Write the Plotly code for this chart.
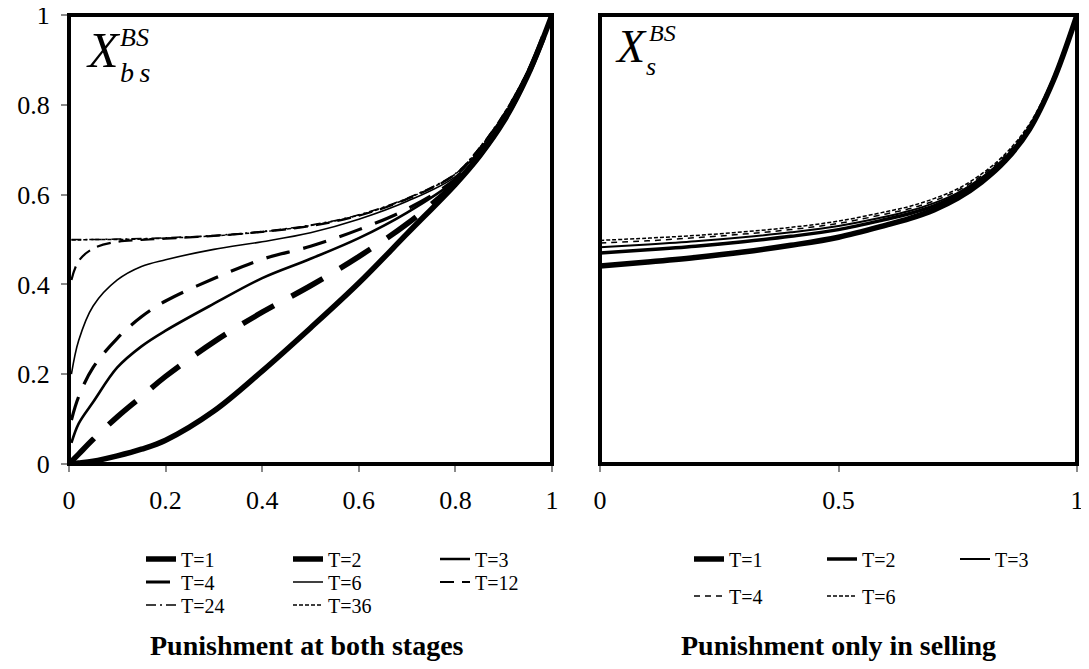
import plotly.graph_objects as go

# ---------------- data ----------------
# Left panel: punishment at both stages
x_left_a = [0.0, 0.02, 0.05, 0.1, 0.15, 0.2, 0.3, 0.4, 0.5, 0.6, 0.7, 0.8, 0.85, 0.9, 0.95, 1.0]
x_left_b = [0.005, 0.02, 0.05, 0.1, 0.15, 0.2, 0.3, 0.4, 0.5, 0.6, 0.7, 0.8, 0.85, 0.9, 0.95, 1.0]
bs_T1 = [0.0, 0.002, 0.006, 0.018, 0.033, 0.053, 0.118, 0.207, 0.303, 0.403, 0.513, 0.623, 0.686, 0.763, 0.866, 1.0]
bs_T2 = [0.0, 0.022, 0.055, 0.105, 0.15, 0.195, 0.272, 0.338, 0.397, 0.462, 0.535, 0.626, 0.688, 0.766, 0.868, 1.0]
bs_T3 = [0.047, 0.09, 0.138, 0.215, 0.262, 0.297, 0.357, 0.414, 0.457, 0.503, 0.56, 0.632, 0.692, 0.77, 0.87, 1.0]
bs_T4 = [0.098, 0.15, 0.215, 0.28, 0.328, 0.363, 0.413, 0.456, 0.485, 0.522, 0.568, 0.635, 0.697, 0.773, 0.872, 1.0]
bs_T6 = [0.2, 0.275, 0.352, 0.41, 0.44, 0.455, 0.478, 0.495, 0.515, 0.545, 0.585, 0.64, 0.7, 0.776, 0.874, 1.0]
bs_T12 = [0.41, 0.452, 0.48, 0.495, 0.499, 0.502, 0.508, 0.517, 0.53, 0.553, 0.59, 0.645, 0.703, 0.778, 0.876, 1.0]
bs_T24 = [0.5, 0.5, 0.5, 0.501, 0.502, 0.504, 0.509, 0.518, 0.532, 0.555, 0.592, 0.647, 0.705, 0.78, 0.877, 1.0]
bs_T36 = [0.499, 0.499, 0.5, 0.5, 0.501, 0.503, 0.508, 0.517, 0.531, 0.554, 0.591, 0.646, 0.704, 0.779, 0.877, 1.0]

# Right panel: punishment only in selling
x_right = [0.0, 0.1, 0.2, 0.3, 0.4, 0.5, 0.6, 0.65, 0.7, 0.75, 0.8, 0.85, 0.9, 0.95, 1.0]
s_T1 = [0.441, 0.45, 0.46, 0.472, 0.487, 0.505, 0.532, 0.547, 0.566, 0.592, 0.628, 0.676, 0.745, 0.853, 1.0]
s_T2 = [0.47, 0.477, 0.485, 0.495, 0.507, 0.522, 0.545, 0.558, 0.575, 0.599, 0.634, 0.68, 0.748, 0.855, 1.0]
s_T3 = [0.483, 0.489, 0.496, 0.505, 0.516, 0.53, 0.551, 0.564, 0.581, 0.604, 0.638, 0.684, 0.751, 0.857, 1.0]
s_T4 = [0.492, 0.497, 0.504, 0.512, 0.522, 0.536, 0.557, 0.569, 0.586, 0.609, 0.642, 0.688, 0.754, 0.859, 1.0]
s_T6 = [0.498, 0.503, 0.509, 0.517, 0.527, 0.541, 0.562, 0.574, 0.591, 0.613, 0.646, 0.691, 0.757, 0.861, 1.0]

left_ticks = [0, 0.2, 0.4, 0.6, 0.8, 1]
left_ticktext = ["0", "0.2", "0.4", "0.6", "0.8", "1"]
right_ticks = [0, 0.5, 1]
right_ticktext = ["0", "0.5", "1"]

# ---------------- figure ----------------
W, H = 1089, 669
OFF = 8  # page body margin of the html page
SERIF = "Liberation Serif"
GREY = "#8a8a8a"

fig = go.Figure()

left_series = [
    ("T=1", x_left_a, bs_T1, dict(width=5.5, dash="solid"), "legend"),
    ("T=2", x_left_a, bs_T2, dict(width=5.5, dash="36px,20px"), "legend"),
    ("T=3", x_left_b, bs_T3, dict(width=2.6, dash="solid"), "legend"),
    ("T=4", x_left_b, bs_T4, dict(width=3.2, dash="24px,14px"), "legend2"),
    ("T=6", x_left_b, bs_T6, dict(width=1.6, dash="solid"), "legend2"),
    ("T=12", x_left_b, bs_T12, dict(width=2.2, dash="14px,8px"), "legend2"),
    ("T=24", x_left_b, bs_T24, dict(width=1.5, dash="10px,4px,2px,4px"), "legend3"),
    ("T=36", x_left_b, bs_T36, dict(width=1.5, dash="4px,2px"), "legend3"),
]
for name, xs, ys, ln, lg in left_series:
    fig.add_trace(go.Scatter(
        x=xs, y=ys, name=name, mode="lines", xaxis="x", yaxis="y",
        line=dict(color="black", shape="spline", smoothing=1.0, **ln),
        legend=lg, hoverinfo="skip"))

right_series = [
    ("T=1", s_T1, dict(width=5.5, dash="solid"), "legend4"),
    ("T=2", s_T2, dict(width=3.5, dash="solid"), "legend4"),
    ("T=3", s_T3, dict(width=2.0, dash="solid"), "legend4"),
    ("T=4", s_T4, dict(width=1.5, dash="6px,5px"), "legend5"),
    ("T=6", s_T6, dict(width=1.5, dash="4px,2px"), "legend5"),
]
for name, ys, ln, lg in right_series:
    fig.add_trace(go.Scatter(
        x=x_right, y=ys, name=name, mode="lines", xaxis="x2", yaxis="y2",
        line=dict(color="black", shape="spline", smoothing=1.0, **ln),
        legend=lg, hoverinfo="skip"))

# plot-area geometry (pixels in the final picture)
LX0, LX1 = 69, 552
RX0, RX1 = 600, 1077
PY0, PY1 = 15, 464

def px(x):
    return (x - OFF) / W

def py(y):
    return 1 - (y - OFF) / H

axis_common = dict(range=[0, 1], showgrid=False, zeroline=False, showline=True,
                   linecolor=GREY, linewidth=2, ticks="outside", ticklen=6,
                   tickcolor=GREY, tickwidth=2, tickfont=dict(family=SERIF, size=26, color="black"),
                   fixedrange=True, automargin=False, ticklabeloverflow="allow")

fig.update_layout(
    width=W, height=H,
    margin=dict(l=0, r=0, t=0, b=0, autoexpand=False),
    paper_bgcolor="white", plot_bgcolor="white",
    font=dict(family=SERIF, color="black"),
    xaxis=dict(domain=[px(LX0), px(LX1)], anchor="y", tickvals=left_ticks,
               ticktext=left_ticktext, ticklabelstandoff=6, **axis_common),
    yaxis=dict(domain=[py(PY1), py(PY0)], anchor="x", tickvals=left_ticks,
               ticktext=left_ticktext, ticklabelstandoff=6, **axis_common),
    xaxis2=dict(domain=[px(RX0), px(RX1)], anchor="y2", tickvals=right_ticks,
                ticktext=right_ticktext, ticklabelstandoff=6, **axis_common),
    yaxis2=dict(domain=[py(PY1), py(PY0)], anchor="x2", range=[0, 1], showgrid=False,
                zeroline=False, showline=False, ticks="", showticklabels=False, fixedrange=True),
    showlegend=True,
)

leg_common = dict(orientation="h", xanchor="left", yanchor="middle",
                  font=dict(family=SERIF, size=20, color="black"),
                  bgcolor="rgba(0,0,0,0)", entrywidthmode="pixels",
                  itemclick=False, itemdoubleclick=False)
fig.update_layout(
    legend=dict(x=px(141), y=py(559), entrywidth=102, **leg_common),
    legend2=dict(x=px(141), y=py(582), entrywidth=102, **leg_common),
    legend3=dict(x=px(141), y=py(605), entrywidth=102, **leg_common),
    legend4=dict(x=px(689), y=py(559), entrywidth=88, **leg_common),
    legend5=dict(x=px(689), y=py(596), entrywidth=88, **leg_common),
)

# black frames around both plot areas
for xr, yr in (("x domain", "y domain"), ("x2 domain", "y2 domain")):
    fig.add_shape(type="rect", xref=xr, yref=yr, x0=0, x1=1, y0=0, y1=1,
                  line=dict(color="black", width=4), layer="above")

# axis symbols and panel titles
ann = [
    ("<i>X</i>", 103, 50, 50),
    ("<i>BS</i>", 134, 37, 26),
    ("<i>b\u2009s</i>", 135, 72, 28),
    ("<i>X</i>", 631, 47, 46),
    ("<i>BS</i>", 662, 33, 24),
    ("<i>s</i>", 651, 67, 26),
]
for txt, x, y, s in ann:
    fig.add_annotation(text=txt, xref="paper", yref="paper", x=px(x), y=py(y),
                       xanchor="center", yanchor="middle", showarrow=False,
                       font=dict(family=SERIF, size=s, color="black"))

for txt, x in (("<b>Punishment at both stages</b>", 307), ("<b>Punishment only in selling</b>", 838)):
    fig.add_annotation(text=txt, xref="paper", yref="paper", x=px(x), y=py(645),
                       xanchor="center", yanchor="middle", showarrow=False,
                       font=dict(family=SERIF, size=28, color="black"))

fig.write_html("out.html")
